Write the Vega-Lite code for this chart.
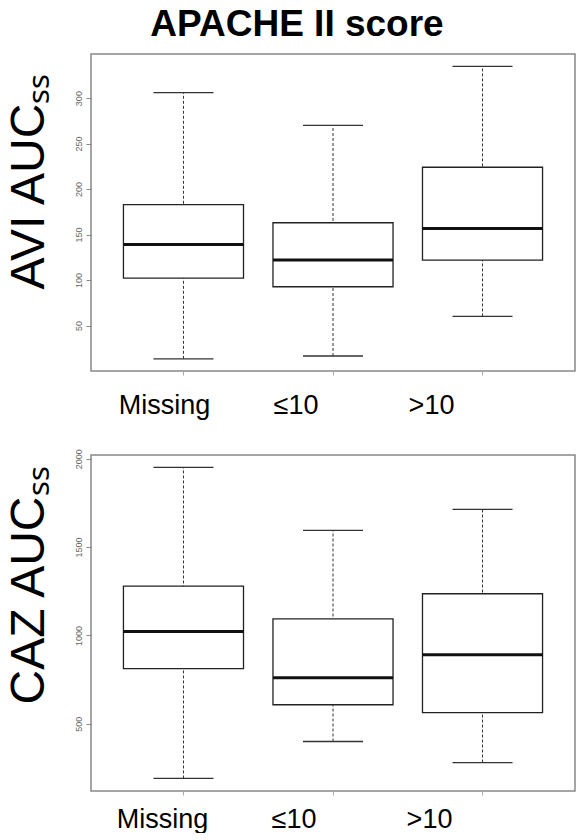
{
  "$schema": "https://vega.github.io/schema/vega-lite/v6.json",
  "padding": {"left": 4, "top": 6, "right": 0, "bottom": 0},
  "background": "white",
  "title": {"text": "APACHE II score", "font": "Liberation Sans", "fontSize": 37, "fontWeight": "bold", "color": "black", "anchor": "middle", "dx": 7, "offset": 9},
  "spacing": 28,
  "resolve": {"scale": {"y": "independent"}},
  "config": {"view": {"stroke": "#888888", "strokeWidth": 1.5}},
  "vconcat": [
    {
      "width": 484, "height": 317,
      "data": {"values": [
        {"g": "Missing", "lo": 13.4, "q1": 102, "med": 139, "q3": 183, "hi": 306},
        {"g": "≤10", "lo": 16.5, "q1": 92.6, "med": 122, "q3": 163, "hi": 270},
        {"g": ">10", "lo": 60, "q1": 122, "med": 156.6, "q3": 224, "hi": 335}
      ]},
      "encoding": {"x": {"field": "g", "type": "nominal", "title": null, "sort": ["Missing", "≤10", ">10"],
        "scale": {"domain": ["Missing", "≤10", ">10"], "paddingInner": 0.197, "paddingOuter": 0.217},
        "axis": {"labelFont": "Liberation Sans", "labelFontSize": 27, "labelColor": "black", "labelAngle": 0, "domain": false, "ticks": true, "tickSize": 4, "tickColor": "#aaaaaa", "labelPadding": 17,
          "labelOffset": {"expr": "datum.value == 'Missing' ? -19 : (datum.value == '≤10' ? -37 : -51)"}}}},
      "layer": [
        {"mark": {"type": "rule", "strokeDash": [3, 2], "color": "#333333", "strokeWidth": 1},
         "encoding": {"y": {"field": "lo", "type": "quantitative", "title": "AVI AUCₛₛ",
            "scale": {"domain": [0, 348.5], "nice": false, "zero": false},
            "axis": {"values": [50, 100, 150, 200, 250, 300], "format": "d", "grid": false, "domain": false, "labelAngle": -90, "labelFontSize": 9, "labelColor": "#666666", "tickColor": "#888888", "tickSize": 5, "labelPadding": 3,
              "titleFont": "Liberation Sans", "titleFontSize": 48, "titleFontWeight": "normal", "titleColor": "black", "titleX": -48, "titleY": 127, "titleAngle": -90, "titleAlign": "center", "titleBaseline": "alphabetic"}},
           "y2": {"field": "hi"}}},
        {"mark": {"type": "bar", "fill": "white", "stroke": "#222222", "strokeWidth": 1.3},
         "encoding": {"y": {"field": "q1", "type": "quantitative", "title": "AVI AUCₛₛ"}, "y2": {"field": "q3"}}},
        {"mark": {"type": "tick", "color": "#111111", "opacity": 1, "thickness": 3, "size": 120},
         "encoding": {"y": {"field": "med", "type": "quantitative", "title": "AVI AUCₛₛ"}}},
        {"mark": {"type": "tick", "color": "#333333", "opacity": 1, "thickness": 1.3, "size": 60},
         "encoding": {"y": {"field": "lo", "type": "quantitative", "title": "AVI AUCₛₛ"}}},
        {"mark": {"type": "tick", "color": "#333333", "opacity": 1, "thickness": 1.3, "size": 60},
         "encoding": {"y": {"field": "hi", "type": "quantitative", "title": "AVI AUCₛₛ"}}}
      ]
    },
    {
      "width": 484, "height": 336,
      "data": {"values": [
        {"g": "Missing", "lo": 191, "q1": 812, "med": 1023, "q3": 1279, "hi": 1951},
        {"g": "≤10", "lo": 400, "q1": 608, "med": 761, "q3": 1094, "hi": 1594},
        {"g": ">10", "lo": 281, "q1": 563, "med": 891, "q3": 1236, "hi": 1713}
      ]},
      "encoding": {"x": {"field": "g", "type": "nominal", "title": null, "sort": ["Missing", "≤10", ">10"],
        "scale": {"domain": ["Missing", "≤10", ">10"], "paddingInner": 0.197, "paddingOuter": 0.217},
        "axis": {"labelFont": "Liberation Sans", "labelFontSize": 27, "labelColor": "black", "labelAngle": 0, "domain": false, "ticks": true, "tickSize": 4, "tickColor": "#aaaaaa", "labelPadding": 11,
          "labelOffset": {"expr": "datum.value == 'Missing' ? -21 : (datum.value == '≤10' ? -39 : -53)"}}}},
      "layer": [
        {"mark": {"type": "rule", "strokeDash": [3, 2], "color": "#333333", "strokeWidth": 1},
         "encoding": {"y": {"field": "lo", "type": "quantitative", "title": "CAZ AUCₛₛ",
            "scale": {"domain": [120, 2021], "nice": false, "zero": false},
            "axis": {"values": [500, 1000, 1500, 2000], "format": "d", "grid": false, "domain": false, "labelAngle": -90, "labelFontSize": 9, "labelColor": "#666666", "tickColor": "#888888", "tickSize": 5, "labelPadding": 3,
              "titleFont": "Liberation Sans", "titleFontSize": 48, "titleFontWeight": "normal", "titleColor": "black", "titleX": -48, "titleY": 130, "titleAngle": -90, "titleAlign": "center", "titleBaseline": "alphabetic"}},
           "y2": {"field": "hi"}}},
        {"mark": {"type": "bar", "fill": "white", "stroke": "#222222", "strokeWidth": 1.3},
         "encoding": {"y": {"field": "q1", "type": "quantitative", "title": "CAZ AUCₛₛ"}, "y2": {"field": "q3"}}},
        {"mark": {"type": "tick", "color": "#111111", "opacity": 1, "thickness": 3, "size": 120},
         "encoding": {"y": {"field": "med", "type": "quantitative", "title": "CAZ AUCₛₛ"}}},
        {"mark": {"type": "tick", "color": "#333333", "opacity": 1, "thickness": 1.3, "size": 60},
         "encoding": {"y": {"field": "lo", "type": "quantitative", "title": "CAZ AUCₛₛ"}}},
        {"mark": {"type": "tick", "color": "#333333", "opacity": 1, "thickness": 1.3, "size": 60},
         "encoding": {"y": {"field": "hi", "type": "quantitative", "title": "CAZ AUCₛₛ"}}}
      ]
    }
  ]
}
